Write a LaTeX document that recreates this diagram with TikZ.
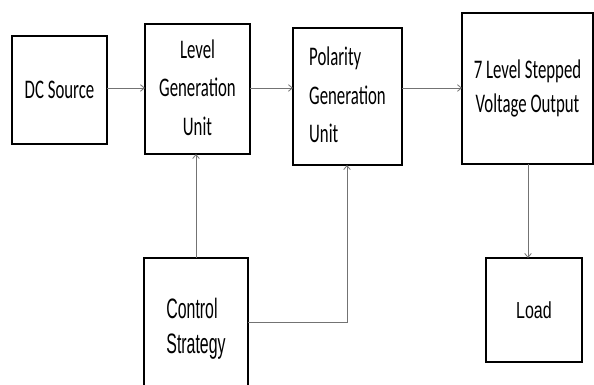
\documentclass[tikz,border=0pt]{standalone}
\usepackage{fontspec}
\usepackage{graphicx}
\setmainfont{Carlito}
\newfontfamily\arialf{Liberation Sans}
\usetikzlibrary{arrows.meta}
\newcommand{\vstretch}[2]{\scalebox{1}[#1]{#2}}
\tikzset{
  box/.style={draw=black, line width=1.1pt, fill=white, inner sep=0pt, outer sep=0pt},
  conn/.style={draw=black!55, line width=0.6pt, -{Straight Barb[length=3pt,width=5pt]}},
  calib/.style={font=\fontsize{12.6pt}{18pt}\selectfont},
}
\begin{document}
\begin{tikzpicture}[x=0.75pt,y=-0.75pt]
\useasboundingbox (0,0) rectangle (594,385);
\clip (0,0) rectangle (594,385);
\fill[white] (0,0) rectangle (594,385);

\node[box, calib, minimum width=71.25pt, minimum height=81pt] (dc) at (59.5,90)
  {\vstretch{1.6}{DC Source}};
\node[box, calib, minimum width=78.75pt, minimum height=97.5pt] (lev) at (197.5,89)
  {\vstretch{1.6}{\begin{tabular}{@{}c@{}}Level\\Generation\\Unit\end{tabular}}};
\node[box, calib, line width=1.8pt, minimum width=81.75pt, minimum height=102.75pt] (pol) at (347.5,96.5)
  {\vstretch{1.6}{\begin{tabular}{@{}l@{}}Polarity\\Generation\\Unit\end{tabular}}};
\node[box, font=\fontsize{12.6pt}{16pt}\selectfont, minimum width=98.25pt, minimum height=113.25pt] (out) at (527.5,88.5)
  {\vstretch{1.6}{\begin{tabular}{@{}c@{}}7 Level Stepped\\Voltage Output\end{tabular}}};
\node[box, font=\arialf\fontsize{12pt}{14pt}\selectfont, minimum width=72pt, minimum height=78pt] (load) at (534,310)
  {\vstretch{1.45}{Load}};
\node[box, font=\arialf\fontsize{11.9pt}{14.8pt}\selectfont, minimum width=78pt, minimum height=106.5pt] (ctrl) at (196,329)
  {\vstretch{1.77}{\begin{tabular}{@{}l@{}}Control\\Strategy\end{tabular}}};

\coordinate (cpol) at (347,322);
\draw[conn] (dc.east |- 0,88) -- (lev.west |- 0,88);
\draw[conn] (lev.east |- 0,88) -- (pol.west |- 0,88);
\draw[conn] (pol.east |- 0,88) -- (out.west |- 0,88);
\draw[conn] (ctrl.north -| 196,0) -- (lev.south -| 196,0);
\draw[conn] (ctrl.east |- cpol) -- (cpol) -- (pol.south -| cpol);
\draw[conn] (out.south -| 528,0) -- (load.north -| 528,0);
\end{tikzpicture}
\end{document}
